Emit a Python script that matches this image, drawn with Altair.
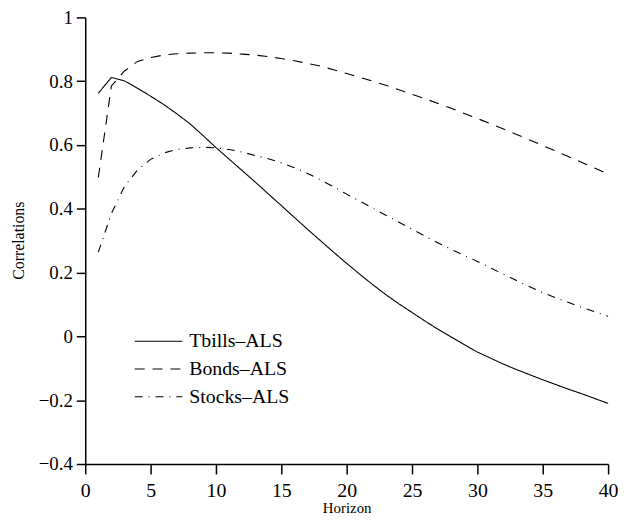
import altair as alt
import pandas as pd

horizon = list(range(1, 41))
tbills = [0.762, 0.812, 0.801, 0.778, 0.753, 0.727, 0.698, 0.667, 0.630, 0.592,
          0.556, 0.520, 0.484, 0.447, 0.410, 0.373, 0.336, 0.300, 0.264, 0.229,
          0.195, 0.162, 0.131, 0.102, 0.075, 0.048, 0.022, -0.002, -0.026, -0.049,
          -0.068, -0.087, -0.104, -0.120, -0.136, -0.151, -0.166, -0.180, -0.195, -0.210]
bonds = [0.498, 0.785, 0.832, 0.862, 0.874, 0.882, 0.886, 0.888, 0.889, 0.889,
         0.888, 0.885, 0.882, 0.877, 0.871, 0.864, 0.856, 0.847, 0.836, 0.824,
         0.812, 0.800, 0.787, 0.773, 0.759, 0.745, 0.730, 0.715, 0.699, 0.683,
         0.667, 0.650, 0.633, 0.616, 0.598, 0.581, 0.563, 0.545, 0.527, 0.509]
stocks = [0.264, 0.385, 0.470, 0.522, 0.555, 0.575, 0.586, 0.591, 0.593, 0.591,
          0.586, 0.578, 0.567, 0.557, 0.544, 0.529, 0.511, 0.491, 0.469, 0.446,
          0.424, 0.402, 0.380, 0.358, 0.336, 0.314, 0.293, 0.273, 0.254, 0.235,
          0.215, 0.195, 0.175, 0.156, 0.137, 0.121, 0.106, 0.091, 0.077, 0.063]

series_names = ["Tbills\u2013ALS", "Bonds\u2013ALS", "Stocks\u2013ALS"]
dash_patterns = [[1, 0], [10, 8], [8, 6, 1, 6]]
x_ticks = [0, 5, 10, 15, 20, 25, 30, 35, 40]
y_ticks = [-0.4, -0.2, 0, 0.2, 0.4, 0.6, 0.8, 1]

rows = []
for name, vals in zip(series_names, [tbills, bonds, stocks]):
    for h, v in zip(horizon, vals):
        rows.append({"Horizon": h, "Correlation": v, "Series": name})
df = pd.DataFrame(rows)

FONT = "Liberation Serif"

chart = alt.Chart(df).mark_line(color="black", strokeWidth=1.1).encode(
    x=alt.X(
        "Horizon:Q",
        scale=alt.Scale(domain=[0, 40], nice=False, zero=False),
        axis=alt.Axis(
            values=x_ticks, format="d", title="Horizon", grid=False,
            tickSize=10, tickWidth=1.5, domainWidth=1.5,
            labelPadding=7, labelFontSize=20, labelFont=FONT, labelFlush=False,
            titleFont=FONT, titleFontSize=15, titleFontWeight="normal",
            titleY=49, titleBaseline="alphabetic",
        ),
    ),
    y=alt.Y(
        "Correlation:Q",
        scale=alt.Scale(domain=[-0.4, 1], nice=False, zero=False),
        axis=alt.Axis(
            values=y_ticks, format="~g", title="Correlations", grid=False,
            tickSize=9, tickWidth=1.5, domainWidth=1.5,
            labelPadding=4, labelFontSize=19, labelFont=FONT, labelFlush=False,
            titleFont=FONT, titleFontSize=16, titleFontWeight="normal",
            titleX=-67, titleY=225, titleAngle=270, titleAlign="center",
            titleBaseline="middle",
        ),
    ),
    strokeDash=alt.StrokeDash(
        "Series:N",
        scale=alt.Scale(domain=series_names, range=dash_patterns),
        legend=alt.Legend(
            orient="none", legendX=49, legendY=317, title=None,
            symbolType="stroke", symbolSize=2304, symbolStrokeWidth=1.1,
            symbolStrokeColor="black", labelFont=FONT, labelFontSize=20,
            labelColor="black", labelOffset=6, rowPadding=8, padding=0,
            clipHeight=20,
        ),
    ),
).properties(
    width=528,
    height=451,
    autosize=alt.AutoSizeParams(type="none"),
    padding={"left": 78, "top": 7, "right": 10, "bottom": 50},
).configure_view(
    stroke=None
).configure_axis(
    domainColor="black", tickColor="black", labelColor="black", titleColor="black"
)

chart.save("out.html", embed_options={"renderer": "svg", "actions": False})
